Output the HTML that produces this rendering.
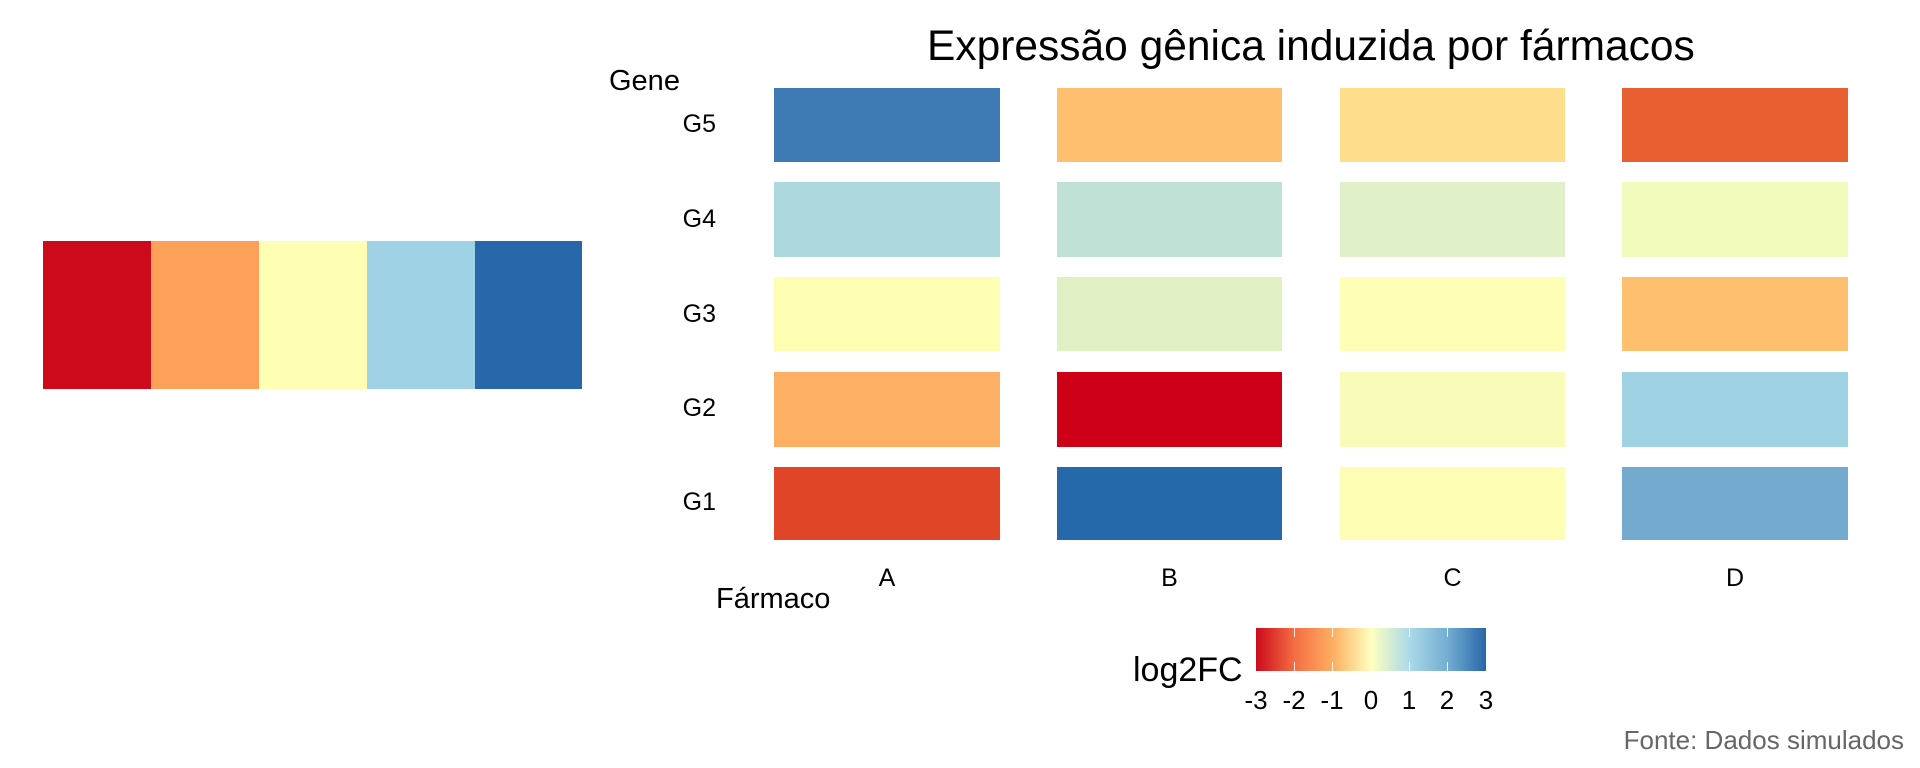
<!DOCTYPE html>
<html><head><meta charset="utf-8"><style>
html,body{margin:0;padding:0;background:#fff;}
body{width:1920px;height:768px;position:relative;overflow:hidden;font-family:"Liberation Sans",Arial,sans-serif;}
.a{position:absolute;}
.t{position:absolute;white-space:nowrap;color:#000;line-height:1;}
.tk{position:absolute;width:1px;height:9px;background:#fff;opacity:.85}
</style></head><body>
<!-- left strip -->
<div class="a" style="left:43px;top:241px;width:108px;height:148px;background:#cc0a1c"></div>
<div class="a" style="left:151px;top:241px;width:108px;height:148px;background:#fda05a"></div>
<div class="a" style="left:259px;top:241px;width:108px;height:148px;background:#ffffb3"></div>
<div class="a" style="left:367px;top:241px;width:108px;height:148px;background:#9fd2e5"></div>
<div class="a" style="left:475px;top:241px;width:107px;height:148px;background:#2867aa"></div>

<div class="t" style="left:927px;top:26px;font-size:42.5px;">Expressão gênica induzida por fármacos</div>
<div class="t" style="left:609px;top:67px;font-size:29px;">Gene</div>

<div class="t" style="left:656px;top:112px;font-size:25px;width:60px;text-align:right">G5</div>
<div class="t" style="left:656px;top:207px;font-size:25px;width:60px;text-align:right">G4</div>
<div class="t" style="left:656px;top:302px;font-size:25px;width:60px;text-align:right">G3</div>
<div class="t" style="left:656px;top:396px;font-size:25px;width:60px;text-align:right">G2</div>
<div class="t" style="left:656px;top:490px;font-size:25px;width:60px;text-align:right">G1</div>

<!-- cells -->
<div class="a" style="left:774px;top:88px;width:226px;height:74px;background:#3e7ab4"></div>
<div class="a" style="left:1057px;top:88px;width:225px;height:74px;background:#fec06f"></div>
<div class="a" style="left:1340px;top:88px;width:225px;height:74px;background:#fedd8d"></div>
<div class="a" style="left:1622px;top:88px;width:226px;height:74px;background:#e86032"></div>

<div class="a" style="left:774px;top:182px;width:226px;height:75px;background:#acd8de"></div>
<div class="a" style="left:1057px;top:182px;width:225px;height:75px;background:#c0e2d6"></div>
<div class="a" style="left:1340px;top:182px;width:225px;height:75px;background:#e0f0c8"></div>
<div class="a" style="left:1622px;top:182px;width:226px;height:75px;background:#f2fbbc"></div>

<div class="a" style="left:774px;top:277px;width:226px;height:74px;background:#fefeb3"></div>
<div class="a" style="left:1057px;top:277px;width:225px;height:74px;background:#e0f0c4"></div>
<div class="a" style="left:1340px;top:277px;width:225px;height:74px;background:#fffeb6"></div>
<div class="a" style="left:1622px;top:277px;width:226px;height:74px;background:#fec06f"></div>

<div class="a" style="left:774px;top:372px;width:226px;height:75px;background:#fdb063"></div>
<div class="a" style="left:1057px;top:372px;width:225px;height:75px;background:#cd0018"></div>
<div class="a" style="left:1340px;top:372px;width:225px;height:75px;background:#f8fcb8"></div>
<div class="a" style="left:1622px;top:372px;width:226px;height:75px;background:#9fd2e3"></div>

<div class="a" style="left:774px;top:467px;width:226px;height:73px;background:#e04527"></div>
<div class="a" style="left:1057px;top:467px;width:225px;height:73px;background:#2669ab"></div>
<div class="a" style="left:1340px;top:467px;width:225px;height:73px;background:#fdfeb3"></div>
<div class="a" style="left:1622px;top:467px;width:226px;height:73px;background:#74aace"></div>

<div class="t" style="left:774px;top:566px;width:226px;text-align:center;font-size:25px;">A</div>
<div class="t" style="left:1057px;top:566px;width:225px;text-align:center;font-size:25px;">B</div>
<div class="t" style="left:1340px;top:566px;width:225px;text-align:center;font-size:25px;">C</div>
<div class="t" style="left:1622px;top:566px;width:226px;text-align:center;font-size:25px;">D</div>

<div class="t" style="left:716px;top:585px;font-size:29px;">Fármaco</div>

<!-- legend -->
<div class="t" style="left:1133px;top:653px;font-size:34px;">log2FC</div>
<div class="a" style="left:1256px;top:628px;width:230px;height:43px;background:linear-gradient(to right,#cc0a1c,#f46d43 16.7%,#fdae61 33.3%,#ffffbf 50%,#abd9e9 66.7%,#74add1 83.3%,#2867aa);"></div>
<div class="tk" style="left:1294px;top:628px"></div><div class="tk" style="left:1294px;top:662px"></div>
<div class="tk" style="left:1332px;top:628px"></div><div class="tk" style="left:1332px;top:662px"></div>
<div class="tk" style="left:1371px;top:628px"></div><div class="tk" style="left:1371px;top:662px"></div>
<div class="tk" style="left:1409px;top:628px"></div><div class="tk" style="left:1409px;top:662px"></div>
<div class="tk" style="left:1447px;top:628px"></div><div class="tk" style="left:1447px;top:662px"></div>
<div class="t" style="left:1231px;top:687px;width:50px;text-align:center;font-size:26px;">-3</div>
<div class="t" style="left:1269px;top:687px;width:50px;text-align:center;font-size:26px;">-2</div>
<div class="t" style="left:1307px;top:687px;width:50px;text-align:center;font-size:26px;">-1</div>
<div class="t" style="left:1346px;top:687px;width:50px;text-align:center;font-size:26px;">0</div>
<div class="t" style="left:1384px;top:687px;width:50px;text-align:center;font-size:26px;">1</div>
<div class="t" style="left:1422px;top:687px;width:50px;text-align:center;font-size:26px;">2</div>
<div class="t" style="left:1461px;top:687px;width:50px;text-align:center;font-size:26px;">3</div>

<div class="t" style="right:16px;top:727px;font-size:26px;color:#666;">Fonte: Dados simulados</div>
</body></html>
